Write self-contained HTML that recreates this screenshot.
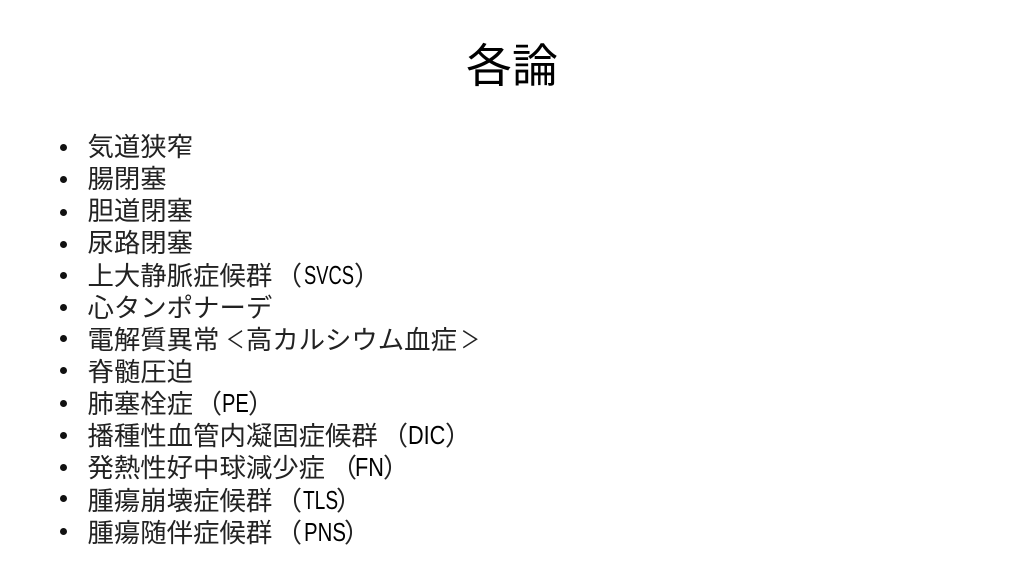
<!DOCTYPE html>
<html lang="ja">
<head>
<meta charset="utf-8">
<style>
html,body{margin:0;padding:0;background:#fff;}
#s{position:relative;width:1024px;height:576px;overflow:hidden;background:#fff;color:#000;font-family:"Liberation Sans","Noto Sans CJK JP",sans-serif;}
h1{position:absolute;left:0;top:32px;width:1024px;margin:0;text-align:center;font-size:46px;line-height:68px;font-weight:400;}
.l,.p,.a{position:absolute;line-height:32px;white-space:nowrap;color:#222;}
.l{left:87.5px;font-size:26.4px;}
.p{font-size:26.4px;}
.a{font-size:25.5px;color:#000;transform-origin:left center;}
.b{position:absolute;left:60px;width:7px;height:7px;border-radius:50%;background:#111;}
.c{display:inline-block;width:26.4px;}
</style>
</head>
<body>
<div id="s">
<h1>各論</h1>
<div class="b" style="top:144.2px"></div><div class="l" style="top:131px">気道狭窄</div>
<div class="b" style="top:176.4px"></div><div class="l" style="top:163px">腸閉塞</div>
<div class="b" style="top:208.6px"></div><div class="l" style="top:195px">胆道閉塞</div>
<div class="b" style="top:240.8px"></div><div class="l" style="top:227px">尿路閉塞</div>
<div class="b" style="top:272px"></div><div class="l" style="top:260px">上大静脈症候群</div>
<div class="p" style="top:260px;left:275.6px">（</div><div class="a" style="top:260px;left:304px;transform:scaleX(.72)">SVCS</div><div class="p" style="top:260px;left:354px">）</div>
<div class="b" style="top:303.5px"></div><div class="l" style="top:292px">心タンポナーデ</div>
<div class="b" style="top:334.5px"></div><div class="l" style="top:324px">電解質異常<span class="c" style="transform:translateX(3px) scale(.7,.9)">＜</span>高カルシウム血症<span class="c" style="transform:scale(.72,.9)">＞</span></div>
<div class="b" style="top:366.5px"></div><div class="l" style="top:356px">脊髄圧迫</div>
<div class="b" style="top:399.5px"></div><div class="l" style="top:388px">肺塞栓症</div>
<div class="p" style="top:388px;left:195.6px">（</div><div class="a" style="top:388px;left:221.5px;transform:scaleX(.79)">PE</div><div class="p" style="top:388px;left:248px">）</div>
<div class="b" style="top:431.5px"></div><div class="l" style="top:420px">播種性血管内凝固症候群</div>
<div class="p" style="top:420px;left:381.6px">（</div><div class="a" style="top:420px;left:408px;transform:scaleX(.85)">DIC</div><div class="p" style="top:420px;left:445px">）</div>
<div class="b" style="top:463.5px"></div><div class="l" style="top:452px">発熱性好中球減少症</div>
<div class="p" style="top:452px;left:330.6px">（</div><div class="a" style="top:452px;left:355px;transform:scaleX(.85)">FN</div><div class="p" style="top:452px;left:383px">）</div>
<div class="b" style="top:494.5px"></div><div class="l" style="top:485px">腫瘍崩壊症候群</div>
<div class="p" style="top:485px;left:275.6px">（</div><div class="a" style="top:485px;left:303px;transform:scaleX(.75)">TLS</div><div class="p" style="top:485px;left:336px">）</div>
<div class="b" style="top:527.5px"></div><div class="l" style="top:517px">腫瘍随伴症候群</div>
<div class="p" style="top:517px;left:275.6px">（</div><div class="a" style="top:517px;left:303.5px;transform:scaleX(.8)">PNS</div><div class="p" style="top:517px;left:344px">）</div>
</div>
</body>
</html>
